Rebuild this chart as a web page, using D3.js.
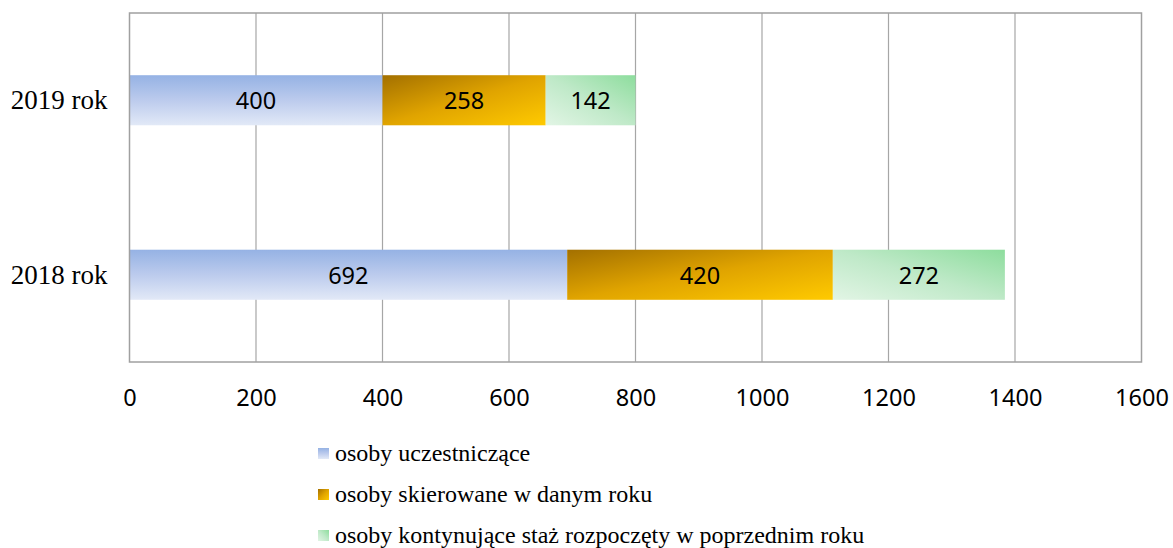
<!DOCTYPE html>
<html><head><meta charset="utf-8">
<script src="https://cdn.jsdelivr.net/npm/d3@7"></script>
<style>body{margin:0;background:#fff}svg{display:block}</style>
</head><body>
<svg id="c" width="1173" height="548"></svg>
<script>
const categories = ["2019 rok", "2018 rok"];
const seriesNames = ["osoby uczestniczące", "osoby skierowane w danym roku", "osoby kontynujące staż rozpoczęty w poprzednim roku"];
const uczestniczace = [400, 692];
const skierowane = [258, 420];
const kontynuujace = [142, 272];
const xTicks = [0, 200, 400, 600, 800, 1000, 1200, 1400, 1600];

const svg = d3.select("#c");
const L = 129.5, R = 1141.5, T = 13, B = 362;
const x = d3.scaleLinear().domain([0, 1600]).range([L, R]);
const y = d3.scaleBand().domain(categories).range([T, B]).padding(0);
const barH = y.bandwidth() * 0.287;

const defs = svg.append("defs");
function grad(id, x1, y1, x2, y2, stops) {
  const g = defs.append("linearGradient").attr("id", id)
    .attr("x1", x1).attr("y1", y1).attr("x2", x2).attr("y2", y2);
  stops.forEach(s => g.append("stop").attr("offset", s[0]).attr("stop-color", s[1]));
}
grad("gBlue", 0, 0, 0, 1, [[0, "#95b2e4"], [0.5, "#bccbed"], [1, "#e2e9f7"]]);
grad("gOrange", 0, 0, 1, 1, [[0, "#a37000"], [0.5, "#e0a400"], [1, "#ffca00"]]);
grad("gGreen", 0, 1, 1, 0, [[0, "#e2f5e5"], [0.5, "#bfe9c8"], [1, "#8ddd9d"]]);
const fills = ["url(#gBlue)", "url(#gOrange)", "url(#gGreen)"];

// gridlines
svg.append("g").selectAll("line").data(xTicks.slice(1, -1)).join("line")
  .attr("x1", d => x(d)).attr("x2", d => x(d)).attr("y1", T).attr("y2", B)
  .attr("stroke", "#a6a6a6").attr("stroke-width", 1.2);

// stacked bars
const rows = categories.map((c, i) => ({cat: c, vals: [uczestniczace[i], skierowane[i], kontynuujace[i]]}));
rows.forEach(r => {
  let acc = 0;
  r.vals.forEach((v, k) => {
    const x0 = acc; acc += v;
    const yc = y(r.cat) + y.bandwidth() / 2;
    svg.append("rect").attr("x", x(x0)).attr("width", x(acc) - x(x0))
      .attr("y", yc - barH / 2).attr("height", barH).attr("fill", fills[k]);
    svg.append("text").attr("x", (x(x0) + x(acc)) / 2).attr("y", yc)
      .attr("text-anchor", "middle").attr("dominant-baseline", "central")
      .attr("font-family", "'Noto Sans', 'Open Sans', sans-serif").attr("font-size", 23.5)
      .attr("fill", "#000").text(v);
  });
});

// frame
svg.append("rect").attr("x", L).attr("y", T).attr("width", R - L).attr("height", B - T)
  .attr("fill", "none").attr("stroke", "#a0a0a0").attr("stroke-width", 1.5);

// x axis
const xAxis = d3.axisBottom(x).tickValues(xTicks).tickSize(0).tickPadding(0).tickFormat(d3.format("d"));
const gx = svg.append("g").attr("transform", `translate(0,${B})`).call(xAxis);
gx.select(".domain").remove();
gx.selectAll("text").attr("font-family", "'Noto Sans', 'Open Sans', sans-serif").attr("font-size", 23.5)
  .attr("fill", "#000").attr("dy", null).attr("y", 35).attr("dominant-baseline", "central");

// category labels
const yAxis = d3.axisLeft(y).tickSize(0).tickPadding(22);
const gy = svg.append("g").attr("transform", `translate(${L},0)`).call(yAxis);
gy.select(".domain").remove();
gy.selectAll("text").attr("font-family", "'Liberation Serif', 'Times New Roman', serif").attr("font-size", 27)
  .attr("fill", "#000").attr("dy", null).attr("dominant-baseline", "central");

// legend
const lg = svg.append("g");
seriesNames.forEach((s, i) => {
  const ly = 453 + i * 41;
  lg.append("rect").attr("x", 318).attr("y", ly - 5).attr("width", 11).attr("height", 11).attr("fill", fills[i]);
  lg.append("text").attr("x", 335).attr("y", ly).attr("dominant-baseline", "central")
    .attr("font-family", "'Liberation Serif', 'Times New Roman', serif").attr("font-size", 24)
    .attr("fill", "#000").text(s);
});
</script>
</body></html>
